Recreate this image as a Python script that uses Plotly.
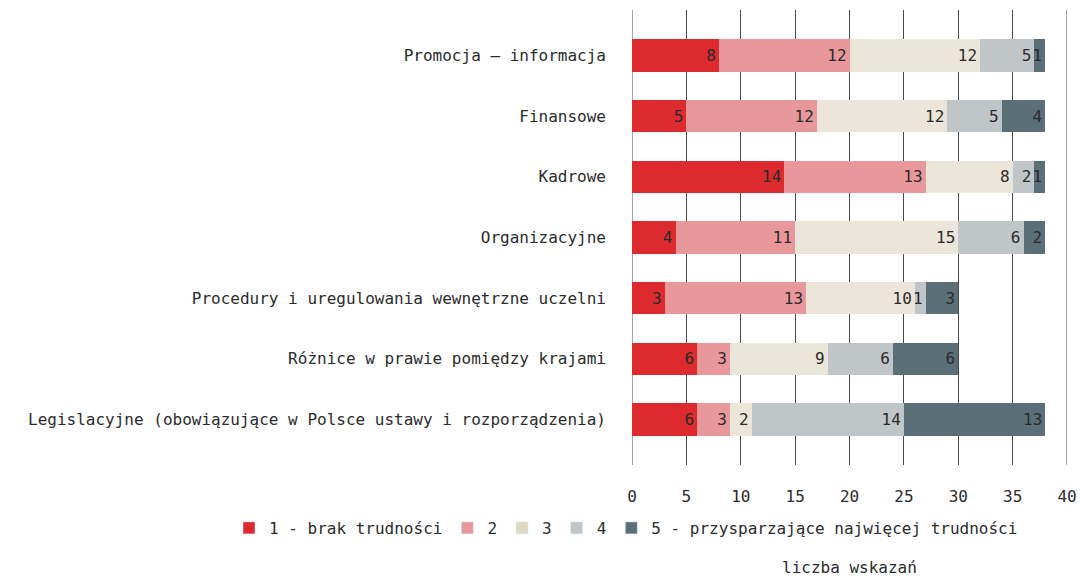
import plotly.graph_objects as go

categories = [
    "Promocja – informacja",
    "Finansowe",
    "Kadrowe",
    "Organizacyjne",
    "Procedury i uregulowania wewnętrzne uczelni",
    "Różnice w prawie pomiędzy krajami",
    "Legislacyjne (obowiązujące w Polsce ustawy i rozporządzenia)",
]
series_names = ["1 - brak trudności", "2", "3", "4", "5 - przysparzające najwięcej trudności"]
s1 = [8, 5, 14, 4, 3, 6, 6]
s2 = [12, 12, 13, 11, 13, 3, 3]
s3 = [12, 12, 8, 15, 10, 9, 2]
s4 = [5, 5, 2, 6, 1, 6, 14]
s5 = [1, 4, 1, 2, 3, 6, 13]
tick_vals = [0, 5, 10, 15, 20, 25, 30, 35, 40]
x_title = "liczba wskazań"

colors = ["#DC2A2F", "#E8989A", "#ECE5D9", "#C0C5C8", "#5B6F79"]
legend_colors = ["#DC2A2F", "#E8989A", "#DFD8C3", "#C0C5C8", "#5B6F79"]

W, H = 1083, 579
PL, PR, PT, PB = 632, 1067, 10, 465
font_main = "DejaVu Sans Mono"
txt = "#2b2b2b"
grid_col = "#4a4a4a"

fig = go.Figure()
for name, vals, c, lc in zip(series_names, [s1, s2, s3, s4, s5], colors, legend_colors):
    fig.add_trace(go.Bar(
        y=categories, x=vals, name=name, orientation="h",
        marker=dict(color=c, line=dict(width=0)),
        text=[str(v) for v in vals], textposition="inside",
        insidetextanchor="end", textangle=0,
        textfont=dict(family=font_main, size=16, color=txt),
        width=0.53, showlegend=False,
    ))
    fig.add_trace(go.Bar(
        y=[None], x=[None], name=name, orientation="h",
        marker=dict(color=lc), showlegend=True,
    ))

# edge gridlines (plotly omits gridlines at the range boundaries)
shapes = [
    dict(type="line", xref="x", yref="paper", x0=v, x1=v, y0=0, y1=1,
         line=dict(color=grid_col, width=1), layer="below")
    for v in (tick_vals[0], tick_vals[-1])
]

pw, ph = PR - PL, PB - PT
fig.update_layout(
    width=W, height=H,
    barmode="stack",
    plot_bgcolor="white", paper_bgcolor="white",
    margin=dict(l=PL, r=W - PR, t=PT, b=H - PB),
    uniformtext=dict(minsize=16, mode="show"),
    font=dict(family=font_main, size=16, color=txt),
    legend=dict(
        orientation="h", xref="paper", yref="paper",
        x=(229 - PL) / pw, xanchor="left", y=(PB - 528) / ph, yanchor="middle",
        font=dict(family=font_main, size=16, color=txt),
        traceorder="normal",
    ),
    xaxis=dict(
        range=[0, 40], tickvals=tick_vals, ticktext=[str(v) for v in tick_vals],
        showgrid=True, gridcolor=grid_col, gridwidth=1,
        zeroline=False, showline=False, automargin=False,
        tickfont=dict(family=font_main, size=16, color=txt),
        ticklabelstandoff=20,
    ),
    yaxis=dict(
        categoryorder="array", categoryarray=categories,
        autorange=False, range=[6.75, -0.75],
        showgrid=False, zeroline=False, showline=False, automargin=False,
        tickfont=dict(family=font_main, size=16, color=txt),
        ticklabelstandoff=25,
    ),
    shapes=shapes,
    annotations=[dict(
        text=x_title, xref="paper", yref="paper",
        x=0.5, y=(PB - 567) / ph, xanchor="center", yanchor="middle",
        showarrow=False, font=dict(family=font_main, size=16, color=txt),
    )],
)

fig.write_html(
    "out.html",
    config={"displayModeBar": False},
    post_script="document.body.style.margin='0';document.body.style.overflow='hidden';",
)
